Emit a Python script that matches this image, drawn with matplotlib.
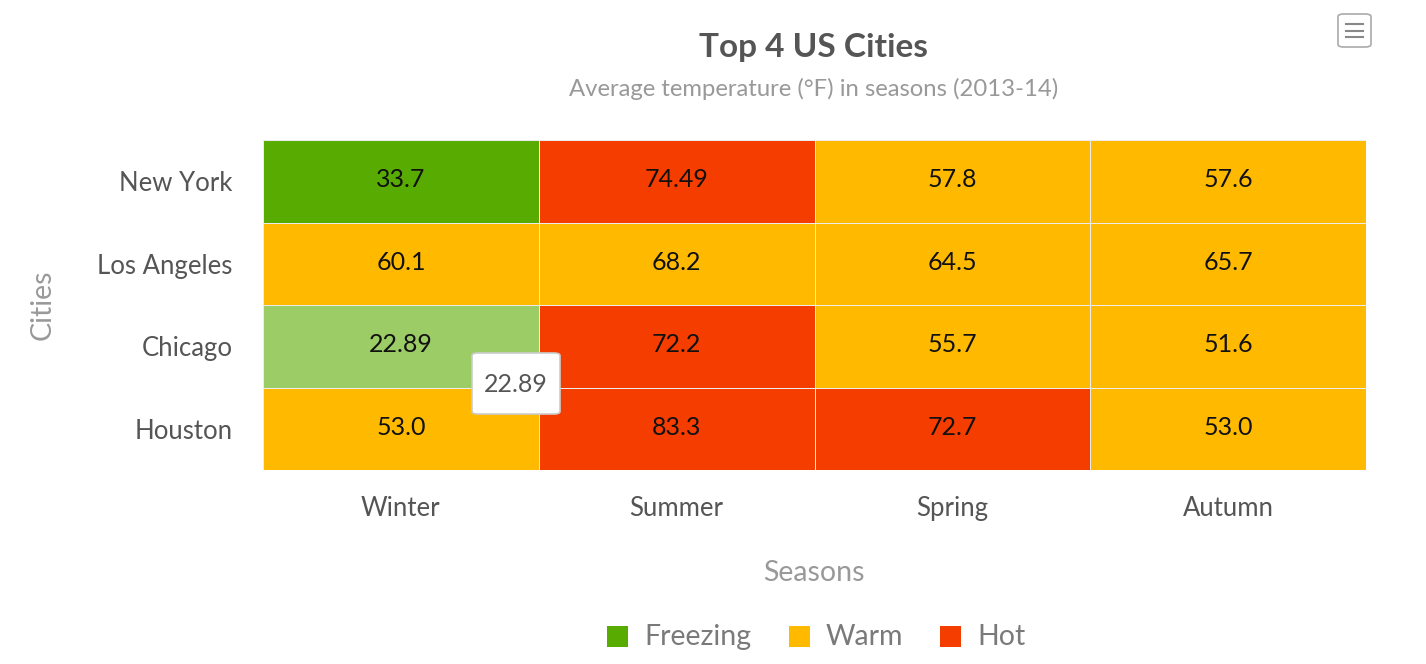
import matplotlib.pyplot as plt
import numpy as np
from matplotlib.colors import ListedColormap, BoundaryNorm
from matplotlib.patches import FancyBboxPatch, Rectangle

# ===== Data =====
cities = ["New York", "Los Angeles", "Chicago", "Houston"]
seasons = ["Winter", "Summer", "Spring", "Autumn"]
temps = [
    [33.7, 74.49, 57.8, 57.6],
    [60.1, 68.2, 64.5, 65.7],
    [22.89, 72.2, 55.7, 51.6],
    [53.0, 83.3, 72.7, 53.0],
]
labels = [
    ["33.7", "74.49", "57.8", "57.6"],
    ["60.1", "68.2", "64.5", "65.7"],
    ["22.89", "72.2", "55.7", "51.6"],
    ["53.0", "83.3", "72.7", "53.0"],
]
range_names = ["Freezing", "Warm", "Hot"]
range_limits = [0, 50, 70, 100]
range_colors = ["#58ab00", "#ffba00", "#f53d00"]
hover_color = "#9bcc65"
hover_cell = (2, 0)  # Chicago / Winter

plt.rcParams['font.family'] = ['Lato', 'DejaVu Sans']

fig = plt.figure(figsize=(14.26, 6.64), dpi=100)
W, H = 1426, 664
ax = fig.add_axes([263 / W, 1 - 470 / H, (1366 - 263) / W, (470 - 140) / H])

vals = np.array(temps)
cat = np.digitize(vals, range_limits[1:-1]).astype(float)
cat[hover_cell] = 3
cmap = ListedColormap(range_colors + [hover_color])
norm = BoundaryNorm([-0.5, 0.5, 1.5, 2.5, 3.5], cmap.N)
ax.pcolormesh(np.arange(5), np.arange(5), cat, cmap=cmap, norm=norm,
              edgecolors="#ececec", linewidth=0.7)
ax.set_xlim(0, 4)
ax.set_ylim(4, 0)

for i in range(len(cities)):
    for j in range(len(seasons)):
        ax.text(j + 0.5, i + 0.48, labels[i][j], ha="center", va="center",
                fontsize=18, color="#111111")

ax.set_xticks(np.arange(4) + 0.5)
ax.set_xticklabels(seasons, fontsize=18.5, color="#555555")
ax.set_yticks(np.arange(4) + 0.5)
ax.set_yticklabels(cities, fontsize=18.5, color="#555555")
ax.tick_params(axis="x", length=0, pad=19)
ax.tick_params(axis="y", length=0, pad=22)
for s in ax.spines.values():
    s.set_visible(False)

# axis titles
fig.text(814 / W, 1 - 573 / H, "Seasons", ha="center", va="center",
         fontsize=20.5, color="#999999")
fig.text(43 / W, 1 - 305 / H, "Cities", ha="center", va="center",
         fontsize=20.5, color="#999999", rotation=90)

# titles
fig.text(814 / W, 1 - 47 / H, "Top 4 US Cities", ha="center", va="center",
         fontsize=24, fontweight="bold", color="#555555")
fig.text(814 / W, 1 - 89 / H, "Average temperature (°F) in seasons (2013-14)",
         ha="center", va="center", fontsize=17.2, color="#999999")

# legend
leg_x = [617, 799, 950]
for name, col, x in zip(range_names, range_colors, leg_x):
    fig.patches.append(Rectangle(((x - 10) / W, 1 - 647 / H), 21 / W, 21 / H,
                                 transform=fig.transFigure, facecolor=col,
                                 edgecolor="none"))
    fig.text((x + 27) / W, 1 - 637 / H, name, ha="left", va="center",
             fontsize=20.5, color="#7a7a7a")

# tooltip
fig.patches.append(FancyBboxPatch((472 / W, 1 - 414 / H), 88 / W, 61 / H,
                                  boxstyle="round,pad=0,rounding_size=0.004",
                                  transform=fig.transFigure, facecolor="white",
                                  edgecolor="#cccccc", linewidth=1.2, zorder=5))
fig.text(516 / W, 1 - 385 / H, labels[hover_cell[0]][hover_cell[1]],
         ha="center", va="center", fontsize=18, color="#555555", zorder=6)

# menu button
fig.patches.append(FancyBboxPatch((1338 / W, 1 - 47 / H), 33 / W, 33 / H,
                                  boxstyle="round,pad=0,rounding_size=0.004",
                                  transform=fig.transFigure, facecolor="white",
                                  edgecolor="#aaaaaa", linewidth=1.2))
for y in [24, 30.5, 37]:
    fig.lines.append(plt.Line2D([1346 / W, 1363 / W], [1 - y / H, 1 - y / H],
                                transform=fig.transFigure, color="#888888",
                                linewidth=1.5))

fig.savefig("out.png", dpi=100)
